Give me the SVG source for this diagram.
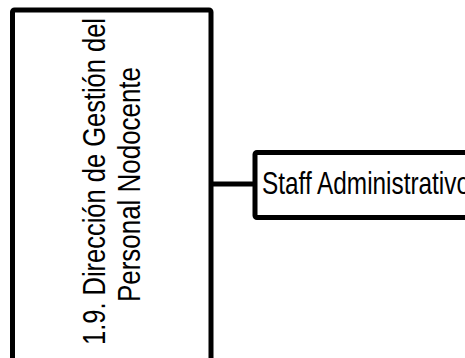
<svg xmlns="http://www.w3.org/2000/svg" width="465" height="358" viewBox="0 0 465 358">
<style>
.box{fill:#fff;stroke:#000;stroke-width:5;stroke-linejoin:round}
.t{font-family:"Liberation Sans",Arial,sans-serif;font-size:30.5px;fill:#000}
.c{fill:none;stroke:#000;stroke-width:5}
</style>
<rect width="465" height="358" fill="#fff"/>
<g id="connectors">
<line class="c" x1="211" y1="184" x2="255" y2="184"/>
</g>
<g id="node-direccion">
<rect class="box" x="12.5" y="10" width="198.5" height="360" rx="2"/>
<text class="t" transform="translate(105,181.5) rotate(-90)" text-anchor="middle" textLength="327" lengthAdjust="spacingAndGlyphs">1.9. Dirección de Gestión del</text>
<text class="t" transform="translate(140,184.5) rotate(-90)" text-anchor="middle" textLength="235" lengthAdjust="spacingAndGlyphs">Personal Nodocente</text>
</g>
<g id="node-staff">
<rect class="box" x="255" y="152.5" width="240" height="65" rx="2"/>
<text class="t" x="262" y="194" font-size="29" textLength="208" lengthAdjust="spacingAndGlyphs">Staff Administrativo</text>
</g>
</svg>
